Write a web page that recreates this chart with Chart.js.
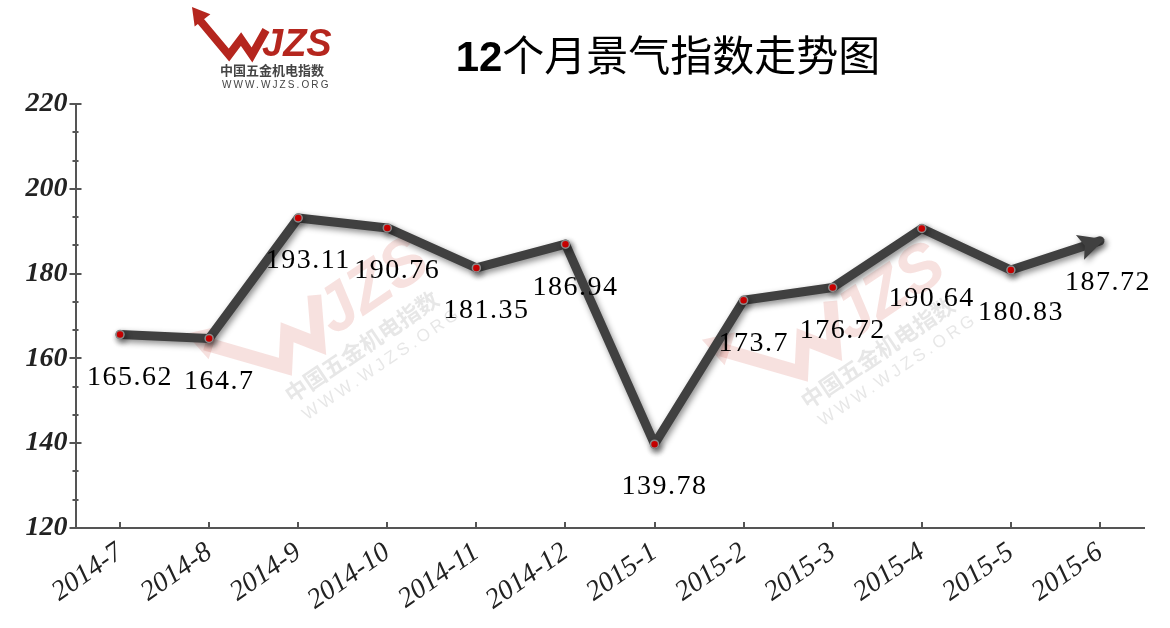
<!DOCTYPE html>
<html>
<head>
<meta charset="utf-8">
<script src="https://cdn.jsdelivr.net/npm/chart.js@4.4.1/dist/chart.umd.min.js"></script>
<style>
  html,body{margin:0;padding:0;background:#fff;}
  #wrap{width:1170px;height:628px;position:relative;}
</style>
</head>
<body>
<div id="wrap"><canvas id="c" width="1170" height="628"></canvas></div>
<script>
const categories = ['2014-7','2014-8','2014-9','2014-10','2014-11','2014-12','2015-1','2015-2','2015-3','2015-4','2015-5','2015-6'];
const values = [165.62, 164.7, 193.11, 190.76, 181.35, 186.94, 139.78, 173.7, 176.72, 190.64, 180.83, 187.72];
const yMin = 120, yMax = 220, yStep = 20;
const titleNum = '12';
const titleText = '个月景气指数走势图';
const logoCN = '中国五金机电指数';
const logoURL = 'WWW.WJZS.ORG';

function drawLogo(ctx, red, gray) {
  ctx.save();
  ctx.strokeStyle = red; ctx.fillStyle = red;
  ctx.lineWidth = 8; ctx.lineJoin = 'miter'; ctx.lineCap = 'butt';
  ctx.beginPath();
  ctx.moveTo(-22, -52);
  ctx.lineTo(9, -15);
  ctx.lineTo(21, -31);
  ctx.lineTo(32, -15);
  ctx.lineTo(46, -40);
  ctx.stroke();
  const tx = -28, ty = -63;
  const dx = -37, dy = -47, L = Math.hypot(dx, dy);
  const ux = dx / L, uy = dy / L;
  const bx = tx - ux * 17, by = ty - uy * 17;
  ctx.beginPath();
  ctx.moveTo(tx, ty);
  ctx.lineTo(bx - uy * 10, by + ux * 10);
  ctx.lineTo(bx + uy * 10, by - ux * 10);
  ctx.closePath();
  ctx.fill();
  ctx.font = 'italic bold 38px "Liberation Sans", Arial, sans-serif';
  ctx.textAlign = 'left'; ctx.textBaseline = 'alphabetic';
  ctx.fillText('JZS', 42, -14);
  ctx.fillStyle = gray;
  ctx.font = 'bold 13px "Noto Sans CJK SC", sans-serif';
  ctx.textBaseline = 'middle';
  ctx.fillText(logoCN, 0, 0);
  ctx.font = '10px "Liberation Sans", Arial, sans-serif';
  ctx.letterSpacing = '2.1px';
  ctx.fillText(logoURL, 2, 15);
  ctx.restore();
}

const decor = {
  id: 'decor',
  beforeDatasetsDraw(chart) {
    const ctx = chart.ctx;
    [[287, 397], [803, 403]].forEach(([x, y]) => {
      ctx.save();
      ctx.translate(x, y);
      ctx.rotate(-34 * Math.PI / 180);
      ctx.scale(1.73, 1.73);
      ctx.globalAlpha = 0.14;
      drawLogo(ctx, '#c8281e', '#555');
      ctx.restore();
    });
    const xs = chart.scales.x, ys = chart.scales.y;
    const ax = chart.chartArea.left, ay = chart.chartArea.bottom;
    ctx.save();
    ctx.strokeStyle = '#555'; ctx.lineWidth = 2;
    ctx.beginPath();
    for (let i = 0; i <= 15; i++) {
      const v = yMin + i * (yMax - yMin) / 15;
      const py = Math.round(ys.getPixelForValue(v));
      if (i % 3 === 0) { ctx.moveTo(ax - 6, py); ctx.lineTo(ax + 6, py); }
      else { ctx.moveTo(ax - 3, py); ctx.lineTo(ax + 3, py); }
    }
    categories.forEach((c, i) => {
      const px = Math.round(xs.getPixelForValue(i));
      ctx.moveTo(px, ay); ctx.lineTo(px, ay - 6);
    });
    ctx.stroke();
    ctx.restore();
  },
  beforeDatasetDraw(chart) {
    const ctx = chart.ctx;
    ctx.save();
    ctx.shadowColor = 'rgba(0,0,0,0.45)';
    ctx.shadowBlur = 6;
    ctx.shadowOffsetX = 2;
    ctx.shadowOffsetY = 3;
  },
  afterDatasetDraw(chart) {
    const ctx = chart.ctx;
    const meta = chart.getDatasetMeta(0);
    const n = meta.data.length;
    const p1 = meta.data[n - 2], p2 = meta.data[n - 1];
    const dx = p2.x - p1.x, dy = p2.y - p1.y, L = Math.hypot(dx, dy);
    const ux = dx / L, uy = dy / L;
    const tx = p2.x + ux * 5, ty = p2.y + uy * 5;
    const bx = tx - ux * 26, by = ty - uy * 26;
    ctx.fillStyle = '#404040';
    ctx.beginPath();
    ctx.moveTo(tx, ty);
    ctx.lineTo(bx - uy * 13, by + ux * 13);
    ctx.lineTo(bx + ux * 5, by + uy * 5);
    ctx.lineTo(bx + uy * 13, by - ux * 13);
    ctx.closePath();
    ctx.fill();
    ctx.restore();
  },
  afterDatasetsDraw(chart) {
    const ctx = chart.ctx;
    const meta = chart.getDatasetMeta(0);
    ctx.save();
    ctx.font = '28px "Liberation Serif", "Times New Roman", serif';
    ctx.letterSpacing = '1.5px';
    ctx.fillStyle = '#000';
    ctx.textAlign = 'center';
    ctx.textBaseline = 'middle';
    const off = chart.options.plugins.decor.labelOffset;
    meta.data.forEach((pt, i) => {
      const o = off[i] || off.default;
      ctx.fillText(String(values[i]), pt.x + o[0], pt.y + o[1]);
    });
    ctx.restore();
    ctx.save();
    ctx.fillStyle = '#000';
    ctx.textBaseline = 'alphabetic';
    ctx.textAlign = 'left';
    const f1 = 'bold 42px "Liberation Sans", Arial, sans-serif';
    const f2 = '400 42px "Noto Sans CJK SC", sans-serif';
    ctx.font = f1; const w1 = ctx.measureText(titleNum).width;
    ctx.font = f2; const w2 = ctx.measureText(titleText).width;
    const x0 = 668 - (w1 + w2) / 2;
    ctx.font = f1; ctx.fillText(titleNum, x0, 71);
    ctx.font = f2; ctx.fillText(titleText, x0 + w1, 71);
    ctx.restore();
    ctx.save();
    ctx.translate(220, 70);
    drawLogo(ctx, '#b5261e', '#444');
    ctx.restore();
  }
};

new Chart(document.getElementById('c'), {
  type: 'line',
  data: {
    labels: categories,
    datasets: [{
      data: values,
      borderColor: '#404040',
      borderWidth: 9,
      borderCapStyle: 'round',
      borderJoinStyle: 'round',
      tension: 0,
      fill: false,
      pointRadius: values.map((v, i) => i === values.length - 1 ? 0 : 4),
      pointBackgroundColor: '#d80000',
      pointBorderColor: '#8a8a8a',
      pointBorderWidth: 1.5,
      pointHoverRadius: 4
    }]
  },
  options: {
    responsive: false,
    animation: false,
    events: [],
    layout: { padding: { top: 104, right: 25.5, left: 0, bottom: 0 } },
    plugins: {
      legend: { display: false },
      title: { display: false },
      tooltip: { enabled: false },
      decor: { labelOffset: { default: [10, 43], 9: [10, 70], 11: [8, 42] } }
    },
    scales: {
      x: {
        type: 'category',
        offset: true,
        grid: { display: true, drawOnChartArea: false, drawTicks: false },
        border: { display: true, color: '#555', width: 2 },
        ticks: {
          autoSkip: false,
          maxRotation: 35, minRotation: 35,
          padding: 8,
          color: '#222',
          font: { family: '"Liberation Serif", "Times New Roman", serif', size: 28, style: 'italic' }
        },
        afterFit: s => { s.height = 100; }
      },
      y: {
        min: yMin, max: yMax,
        grid: { display: true, drawOnChartArea: false, drawTicks: false },
        border: { display: true, color: '#555', width: 2 },
        ticks: {
          stepSize: yStep,
          padding: 8,
          color: '#222',
          font: { family: '"Liberation Serif", "Times New Roman", serif', size: 28, style: 'italic', weight: 'bold' }
        },
        afterFit: s => { s.width = 75.5; }
      }
    }
  },
  plugins: [decor]
});
</script>
</body>
</html>
